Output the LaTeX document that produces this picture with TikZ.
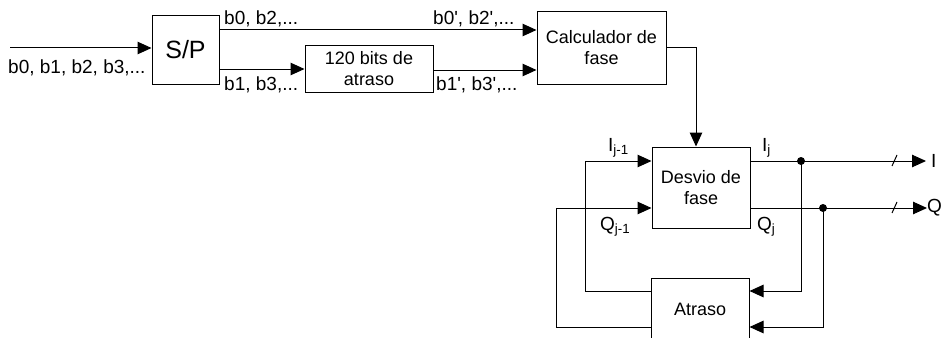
\documentclass[tikz,border=0pt]{standalone}
\usepackage{fontspec}
\setmainfont{Liberation Sans}[Ligatures=TeXOff]
\usetikzlibrary{arrows.meta,calc}
\begin{document}
\begin{tikzpicture}[x=1pt,y=-1pt,
  box/.style={draw,line width=1pt,inner sep=0pt,align=center,font=\fontsize{18}{21}\selectfont},
  lbl/.style={inner sep=0pt,font=\fontsize{19}{21}\selectfont},
  arr/.style={-{Triangle[length=14pt,width=12.5pt]}},
  ln/.style={line width=1pt},
  dotc/.style={circle,fill,inner sep=0pt,minimum size=8pt}]
\useasboundingbox (0,0) rectangle (941,337);
\clip (0,0) rectangle (941,337);
% boxes
\node[box,minimum width=67pt,minimum height=68pt,font=\fontsize{25}{28}\selectfont] (sp) at (185.5,50) {S/P};
\node[box,minimum width=128pt,minimum height=46pt] (dl) at (369,69) {120 bits de\\atraso};
\node[box,minimum width=129pt,minimum height=72pt] (cal) at (601.5,48) {Calculador de\\fase};
\node[box,minimum width=98pt,minimum height=81pt] (dv) at (701,187.5) {Desvio de\\fase};
\node[box,minimum width=98pt,minimum height=62pt] (at) at (700,309) {Atraso};
% coordinates
\coordinate (in) at (10,48);
\coordinate (ytop) at (0,30);
\coordinate (ydl) at (0,70);
\coordinate (xcd) at (696,0);
\coordinate (yI) at (0,161);
\coordinate (yQ) at (0,208);
\coordinate (yIa) at (0,291);
\coordinate (yQa) at (0,327);
\coordinate (cI) at (585,161);
\coordinate (cQ) at (556,208);
\coordinate (dI) at (801,161);
\coordinate (dQ) at (823,208);
\coordinate (Iout) at (926,161);
\coordinate (Qout) at (927,208);
% connectors
\draw[ln,arr] (in) -- (in -| sp.west);
\draw[ln,arr] (sp.east |- ytop) -- (cal.west |- ytop);
\draw[ln,arr] (sp.east |- dl.west) -- (dl.west);
\draw[ln,arr] (dl.east |- ydl) -- (cal.west |- ydl);
\draw[ln,arr] (cal.east) -| (xcd |- dv.north);
\draw[ln,arr] (at.west |- yIa) -| (cI) -- (dv.west |- yI);
\draw[ln,arr] (at.west |- yQa) -| (cQ) -- (dv.west |- yQ);
\draw[ln,arr] (dv.east |- yI) -- (Iout);
\draw[ln,arr] (dv.east |- yQ) -- (Qout);
\draw[ln,arr] (dI) -- (dI |- yIa) -- (at.east |- yIa);
\draw[ln,arr] (dQ) -- (dQ |- yQa) -- (at.east |- yQa);
\node[dotc] at (dI) {};
\node[dotc] at (dQ) {};
\draw[ln] ($(Iout)+(-34,5)$) -- ($(Iout)+(-29,-6)$);
\draw[ln] ($(Qout)+(-35,5)$) -- ($(Qout)+(-30,-6)$);
% labels
\node[lbl,anchor=base west] at (8,73) {b0, b1, b2, b3,...};
\node[lbl,anchor=base west] at (224,25) {b0, b2,...};
\node[lbl,anchor=base west] at (224,90) {b1, b3,...};
\node[lbl,anchor=base west] at (433,25) {b0', b2',...};
\node[lbl,anchor=base west] at (436,90) {b1', b3',...};
\node[lbl,anchor=base west] at (608,151) {I\textsubscript{j-1}};
\node[lbl,anchor=base west] at (762,151) {I\textsubscript{j}};
\node[lbl,anchor=base west] at (600,230) {Q\textsubscript{j-1}};
\node[lbl,anchor=base west] at (757,230) {Q\textsubscript{j}};
\node[lbl,anchor=west] at (931,161) {I};
\node[lbl,anchor=west] at (927,208) {Q};
\end{tikzpicture}
\end{document}
